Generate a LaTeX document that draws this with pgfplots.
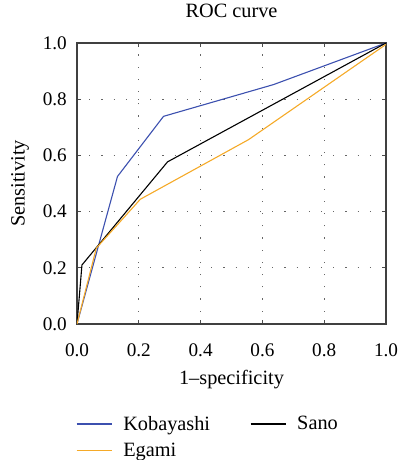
\documentclass[border=0pt]{standalone}
\usepackage{pgfplots}
\pgfplotsset{compat=1.18}
\usepackage{fontspec}
\setmainfont{Liberation Serif}
\definecolor{cblue}{RGB}{60,80,175}
\definecolor{corange}{RGB}{245,170,40}
\begin{document}
\begin{tikzpicture}
\begin{axis}[
  name=ax,
  width=309pt, height=281pt, scale only axis,
  xmin=0, xmax=1, ymin=0, ymax=1,
  xtick={0,0.2,...,1.0}, ytick={0,0.2,...,1.0},
  /pgf/number format/assume math mode=true,
  xticklabel style={/pgf/number format/fixed,/pgf/number format/fixed zerofill,/pgf/number format/precision=1, anchor=center, yshift=-26pt},
  yticklabel style={/pgf/number format/fixed,/pgf/number format/fixed zerofill,/pgf/number format/precision=1, anchor=east, xshift=-6.7pt},
  tick label style={font=\fontsize{19.2}{22}\selectfont},
  label style={font=\fontsize{20.3}{23}\selectfont},
  title style={font=\fontsize{20.3}{23}\selectfont, at={(axis description cs:0.5,1)}, anchor=center, yshift=26pt},
  title={ROC curve},
  xlabel={1--specificity}, ylabel={Sensitivity},
  xlabel style={at={(axis description cs:0.5,0)}, anchor=center, yshift=-56pt},
  ylabel style={at={(axis description cs:-0.184,0.5)}, anchor=center, rotate=0},
  grid=major, major grid style={dash pattern=on 1.2pt off 11pt, black!60, line width=1.1pt},
  tick align=inside, major tick length=4pt,
  tick style={black!70, line width=0.8pt},
  axis line style={black!75, line width=1.1pt},
  legend style={draw=none, fill=none, at={(axis description cs:0,0)}, anchor=north west, yshift=-88pt, xshift=-4pt, font=\fontsize{20.3}{27}\selectfont,
    /tikz/every odd column/.append style={column sep=9pt},
    /tikz/every even column/.append style={column sep=38pt},
    row sep=7pt},
  legend columns=2,
  legend cell align=left,
  legend image code/.code={\draw[mark repeat=2,mark phase=2,#1] plot coordinates {(0pt,0pt) (17pt,0pt) (35pt,0pt)};},
]
\addplot[cblue, line width=1.1pt] coordinates {(0,0) (0.131,0.525) (0.28,0.739) (0.636,0.852) (1,1)};
\addlegendentry{Kobayashi}
\addplot[black, line width=1.1pt] coordinates {(0,0) (0.016,0.21) (0.293,0.577) (1,1)};
\addlegendentry{Sano}
\addplot[corange, line width=1.1pt] coordinates {(0,0) (0.0625,0.27) (0.205,0.444) (0.555,0.656) (1,0.995)};
\addlegendentry{Egami}
\end{axis}
\pgfresetboundingbox
\path[use as bounding box] ([shift={(-77pt,-136pt)}]ax.south west) rectangle ([shift={(11pt,43pt)}]ax.north east);
\end{tikzpicture}
\end{document}
